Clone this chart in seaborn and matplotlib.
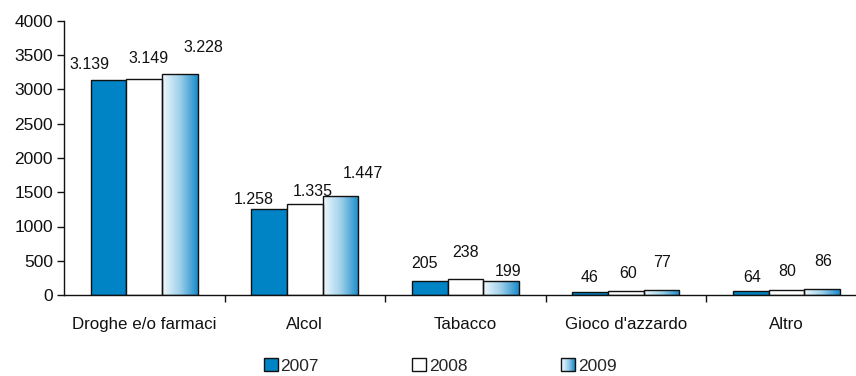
import numpy as np
import pandas as pd
import matplotlib
matplotlib.use("Agg")
import matplotlib.pyplot as plt
from matplotlib.patches import Rectangle
from matplotlib.legend_handler import HandlerBase
from matplotlib.colors import LinearSegmentedColormap
import seaborn as sns

# --- data ---------------------------------------------------------------
categories = ["Droghe e/o farmaci", "Alcol", "Tabacco", "Gioco d'azzardo", "Altro"]
years = ["2007", "2008", "2009"]
values_2007 = [3139, 1258, 205, 46, 64]
values_2008 = [3149, 1335, 238, 60, 80]
values_2009 = [3228, 1447, 199, 77, 86]
y_ticks = [0, 500, 1000, 1500, 2000, 2500, 3000, 3500, 4000]

df = pd.DataFrame({
    "categoria": categories * 3,
    "anno": [y for y in years for _ in categories],
    "valore": values_2007 + values_2008 + values_2009,
})

# --- style --------------------------------------------------------------
sns.set_theme(style="white")
plt.rcParams["font.family"] = ["Liberation Sans", "DejaVu Sans"]
plt.rcParams["font.size"] = 12

BLUE = "#0084C6"
grad_cmap = LinearSegmentedColormap.from_list("g", ["#f2f9fd", "#9fd0ea", "#1a8bc9"])

fig = plt.figure(figsize=(8.56, 3.76), dpi=100)
ax = fig.add_axes([64 / 856, 1 - 295 / 376, 1 - 64 / 856, 274 / 376])

sns.barplot(data=df, x="categoria", y="valore", hue="anno",
            palette=[BLUE, "white", "white"], saturation=1, edgecolor="#111111",
            linewidth=1.0, width=0.667, gap=0, legend=False, ax=ax)

# gradient fill for the 2009 bars
gradient = np.linspace(0, 1, 256).reshape(1, -1)
for bar in ax.containers[2]:
    x0, y0 = bar.get_x(), bar.get_y()
    w, h = bar.get_width(), bar.get_height()
    im = ax.imshow(gradient, cmap=grad_cmap, aspect="auto",
                   extent=[x0, x0 + w, y0, y0 + h], zorder=bar.get_zorder() - 0.1,
                   interpolation="bicubic")
    im.set_clip_path(bar)
    bar.set_facecolor("none")

# value labels (Italian thousands separator)
label_dx = [[-19, 4, 23], [-15, 8, 22], [-5, 0, 7], [-1, 2, 0], [1, 1, 1]]
label_dy = [[15, 21, 26], [9, 12, 22], [17, 26, 10], [14, 17, 27], [13, 18, 28]]
for j, cont in enumerate(ax.containers):
    for i, bar in enumerate(cont):
        v = bar.get_height()
        txt = f"{int(round(v)):,}".replace(",", ".")
        ax.annotate(txt, (bar.get_x() + bar.get_width() / 2, v),
                    xytext=(label_dx[i][j], label_dy[i][j]),
                    textcoords="offset pixels", ha="center", va="center",
                    fontsize=11.5, color="#111111")

# axes
ax.set_ylim(0, 4000)
ax.set_yticks(y_ticks)
ax.set_xlim(-0.5, 4.433)
ax.set_xticks([0.5, 1.5, 2.5, 3.5])
ax.set_xticklabels([])
ax.set_xticks(range(len(categories)), minor=True)
ax.set_xticklabels(categories, minor=True)
ax.tick_params(axis="x", which="major", direction="out", length=5, width=1, color="#111111", bottom=True)
ax.tick_params(axis="x", which="minor", length=0, pad=16, labelsize=12.2, bottom=True,
               labelcolor="#111111")
ax.tick_params(axis="y", direction="out", length=5, width=1, color="#111111",
               left=True, pad=3, labelsize=12.5, labelcolor="#111111")
ax.set_xlabel("")
ax.set_ylabel("")
for s in ["top", "right"]:
    ax.spines[s].set_visible(False)
for s in ["left", "bottom"]:
    ax.spines[s].set_color("#111111")
    ax.spines[s].set_linewidth(1.0)


# legend with a gradient swatch for 2009
class GradientHandler(HandlerBase):
    def create_artists(self, legend, orig_handle, xdescent, ydescent,
                       width, height, fontsize, trans):
        n = 20
        arts = []
        for k in range(n):
            c = grad_cmap(k / (n - 1))
            arts.append(Rectangle((-xdescent + width * k / n, -ydescent),
                                  width / n + 0.05, height, facecolor=c,
                                  edgecolor="none", transform=trans))
        arts.append(Rectangle((-xdescent, -ydescent), width, height,
                              facecolor="none", edgecolor="#111111",
                              linewidth=1.0, transform=trans))
        return arts


h07 = Rectangle((0, 0), 1, 1, facecolor=BLUE, edgecolor="#111111", linewidth=1.0)
h08 = Rectangle((0, 0), 1, 1, facecolor="white", edgecolor="#111111", linewidth=1.0)
h09 = Rectangle((0, 0), 1, 1)
fig.legend([h07, h08, h09], years, loc="center", bbox_to_anchor=(440 / 856, 1 - 366 / 376),
           ncol=3, frameon=False, fontsize=12.5, handlelength=0.8, handleheight=0.8,
           handletextpad=0.15, columnspacing=5.4,
           handler_map={h09: GradientHandler()})

fig.savefig("out.png", dpi=100)
